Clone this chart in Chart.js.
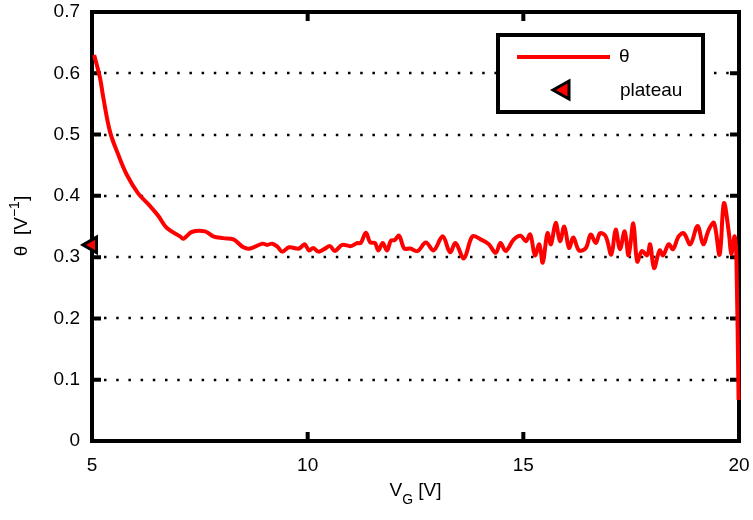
<!DOCTYPE html>
<html>
<head>
<meta charset="utf-8">
<script src="https://cdn.jsdelivr.net/npm/chart.js@4"></script>
<style>
  html, body { margin: 0; padding: 0; background: #fff; }
  #wrap { width: 753px; height: 520px; }
</style>
</head>
<body>
<div id="wrap"><canvas id="myChart" width="753" height="520"></canvas></div>
<script>
// data
var vg = [5.05, 5.19, 5.26, 5.42, 5.61, 5.81, 6.07, 6.31, 6.54, 6.73, 7.04, 7.12, 7.31, 7.62, 7.81, 8.04, 8.28, 8.51, 8.67,
  8.95, 9.06, 9.18, 9.30, 9.41, 9.57, 9.80, 9.93, 10.03, 10.13, 10.25, 10.38, 10.52, 10.63, 10.80, 11.00, 11.14, 11.23,
  11.35, 11.45, 11.56, 11.64, 11.74, 11.84, 11.93, 12.02, 12.12, 12.24, 12.38, 12.55, 12.74, 12.92, 13.13, 13.30, 13.43,
  13.62, 13.82, 14.01, 14.20, 14.36, 14.47, 14.59, 14.78, 14.94, 15.06, 15.16, 15.27, 15.37, 15.45, 15.56, 15.64, 15.75,
  15.85, 15.95, 16.06, 16.16, 16.29, 16.45, 16.56, 16.68, 16.78, 16.91, 17.04, 17.14, 17.24, 17.35, 17.44, 17.55, 17.64,
  17.75, 17.87, 17.94, 18.03, 18.16, 18.24, 18.37, 18.47, 18.60, 18.72, 18.87, 19.04, 19.17, 19.30, 19.42, 19.55, 19.65,
  19.77, 19.82, 19.90, 19.94, 19.99];
var theta = [0.630, 0.591, 0.561, 0.504, 0.467, 0.434, 0.404, 0.386, 0.367, 0.348, 0.334, 0.330, 0.341, 0.342, 0.334, 0.331, 0.329, 0.316, 0.314,
  0.322, 0.320, 0.322, 0.317, 0.309, 0.316, 0.314, 0.321, 0.311, 0.315, 0.309, 0.313, 0.318, 0.310, 0.320, 0.318, 0.323, 0.323,
  0.340, 0.324, 0.323, 0.311, 0.323, 0.311, 0.327, 0.328, 0.335, 0.314, 0.314, 0.310, 0.324, 0.311, 0.334, 0.308, 0.323,
  0.298, 0.334, 0.329, 0.321, 0.307, 0.323, 0.310, 0.329, 0.335, 0.326, 0.337, 0.303, 0.321, 0.291, 0.339, 0.321, 0.356,
  0.326, 0.350, 0.315, 0.332, 0.311, 0.315, 0.337, 0.323, 0.339, 0.334, 0.304, 0.345, 0.313, 0.342, 0.303, 0.355, 0.293,
  0.310, 0.303, 0.321, 0.282, 0.311, 0.303, 0.321, 0.313, 0.334, 0.339, 0.321, 0.351, 0.321, 0.345, 0.356, 0.304, 0.388,
  0.337, 0.305, 0.334, 0.296, 0.067];
var plateauX = [5];
var plateauY = [0.32];
var xTicks = [5, 10, 15, 20];
var yTicks = [0, 0.1, 0.2, 0.3, 0.4, 0.5, 0.6, 0.7];

var FONT = '"Liberation Sans", Arial, Helvetica, sans-serif';

var lineData = vg.map(function (v, i) { return { x: v, y: theta[i] }; });
var plateauData = plateauX.map(function (v, i) { return { x: v, y: plateauY[i] }; });

// frame, inward ticks, dotted grid, axis titles, legend
var matlabLook = {
  id: 'matlabLook',
  beforeDatasetsDraw: function (chart) {
    var ctx = chart.ctx, a = chart.chartArea;
    var xs = chart.scales.x, ys = chart.scales.y;
    ctx.save();
    ctx.strokeStyle = '#000';
    ctx.lineWidth = 2.5;
    ctx.setLineDash([2.5, 9.7]);
    yTicks.forEach(function (t) {
      if (t <= 0 || t >= 0.7) return;
      var py = Math.round(ys.getPixelForValue(t));
      ctx.beginPath();
      ctx.moveTo(a.left + 12, py);
      ctx.lineTo(a.right - 4, py);
      ctx.stroke();
    });
    ctx.setLineDash([]);
    ctx.lineWidth = 4;
    ctx.strokeRect(a.left, a.top, a.right - a.left, a.bottom - a.top);
    ctx.beginPath();
    yTicks.forEach(function (t) {
      var py = ys.getPixelForValue(t);
      ctx.moveTo(a.left, py); ctx.lineTo(a.left + 9, py);
      ctx.moveTo(a.right, py); ctx.lineTo(a.right - 9, py);
    });
    xTicks.forEach(function (t) {
      var px = xs.getPixelForValue(t);
      ctx.moveTo(px, a.bottom); ctx.lineTo(px, a.bottom - 9);
      ctx.moveTo(px, a.top); ctx.lineTo(px, a.top + 9);
    });
    ctx.stroke();
    ctx.restore();
  },
  afterDraw: function (chart) {
    var ctx = chart.ctx, a = chart.chartArea;
    ctx.save();
    // x title V_G [V]
    ctx.fillStyle = '#000';
    ctx.textBaseline = 'middle';
    ctx.font = '19px ' + FONT;
    var cx = (a.left + a.right) / 2;
    var w1 = ctx.measureText('V').width;
    ctx.font = '14px ' + FONT;
    var w2 = ctx.measureText('G').width;
    ctx.font = '19px ' + FONT;
    var w3 = ctx.measureText(' [V]').width;
    var x0 = cx - (w1 + w2 + w3) / 2;
    ctx.textAlign = 'left';
    ctx.fillText('V', x0, 491);
    ctx.font = '14px ' + FONT;
    ctx.fillText('G', x0 + w1, 500);
    ctx.font = '19px ' + FONT;
    ctx.fillText(' [V]', x0 + w1 + w2, 491);

    // y title θ [V^-1]
    ctx.save();
    ctx.translate(22, 226);
    ctx.rotate(-Math.PI / 2);
    var p1 = '\u03b8  [V', p2 = '\u22121', p3 = ']';
    ctx.font = '19px ' + FONT;
    var q1 = ctx.measureText(p1).width;
    var q3 = ctx.measureText(p3).width;
    ctx.font = '14px ' + FONT;
    var q2 = ctx.measureText(p2).width;
    var s = -(q1 + q2 + q3) / 2;
    ctx.font = '19px ' + FONT;
    ctx.fillText(p1, s, 0);
    ctx.font = '14px ' + FONT;
    ctx.fillText(p2, s + q1, -7);
    ctx.font = '19px ' + FONT;
    ctx.fillText(p3, s + q1 + q2, 0);
    ctx.restore();

    // legend box
    var ds = chart.data.datasets;
    ctx.strokeStyle = '#000';
    ctx.lineWidth = 4;
    ctx.fillStyle = '#fff';
    ctx.fillRect(498, 35, 205, 77);
    ctx.strokeRect(498, 35, 205, 77);
    ctx.strokeStyle = 'red';
    ctx.lineWidth = 4;
    ctx.beginPath();
    ctx.moveTo(517, 57); ctx.lineTo(610, 57);
    ctx.stroke();
    ctx.beginPath();
    ctx.moveTo(553, 90); ctx.lineTo(569, 81); ctx.lineTo(569, 99); ctx.closePath();
    ctx.fillStyle = 'red';
    ctx.fill();
    ctx.strokeStyle = '#000';
    ctx.lineWidth = 3;
    ctx.stroke();
    ctx.fillStyle = '#000';
    ctx.font = '19px ' + FONT;
    ctx.textAlign = 'left';
    ctx.fillText(ds[0].label, 619, 57);
    ctx.fillText(ds[1].label, 620, 91);
    ctx.restore();
  }
};

var config = {
  type: 'scatter',
  data: {
    datasets: [{
      label: '\u03b8',
      data: lineData,
      showLine: true,
      borderColor: 'red',
      backgroundColor: 'red',
      borderWidth: 4,
      pointRadius: 0,
      tension: 0.35,
      clip: false
    }, {
      label: 'plateau',
      data: plateauData,
      pointStyle: 'triangle',
      rotation: -90,
      pointRadius: 9,
      backgroundColor: 'red',
      borderColor: '#000',
      borderWidth: 3,
      clip: false
    }]
  },
  options: {
    responsive: false,
    animation: false,
    layout: { padding: { top: 10, right: 14, left: 0, bottom: 0 } },
    plugins: { legend: { display: false }, tooltip: { enabled: false } },
    scales: {
      x: {
        type: 'linear', min: 5, max: 20,
        afterBuildTicks: function (sc) { sc.ticks = xTicks.map(function (v) { return { value: v }; }); },
        afterFit: function (sc) { sc.height = 79; sc.paddingLeft = 0; sc.paddingRight = 0; },
        grid: { display: false, drawTicks: false },
        border: { display: false },
        ticks: { color: '#000', font: { family: FONT, size: 19 }, padding: 13, maxRotation: 0 }
      },
      y: {
        type: 'linear', min: 0, max: 0.7,
        afterBuildTicks: function (sc) { sc.ticks = yTicks.map(function (v) { return { value: v }; }); },
        afterFit: function (sc) { sc.width = 92; sc.paddingTop = 0; sc.paddingBottom = 0; },
        grid: { display: false, drawTicks: false },
        border: { display: false },
        ticks: {
          color: '#000', font: { family: FONT, size: 19 }, padding: 12,
          callback: function (v) { return v === 0 ? '0' : v.toFixed(1); }
        }
      }
    }
  },
  plugins: [matlabLook]
};

var myChart = new Chart(document.getElementById('myChart'), config);
</script>
</body>
</html>
